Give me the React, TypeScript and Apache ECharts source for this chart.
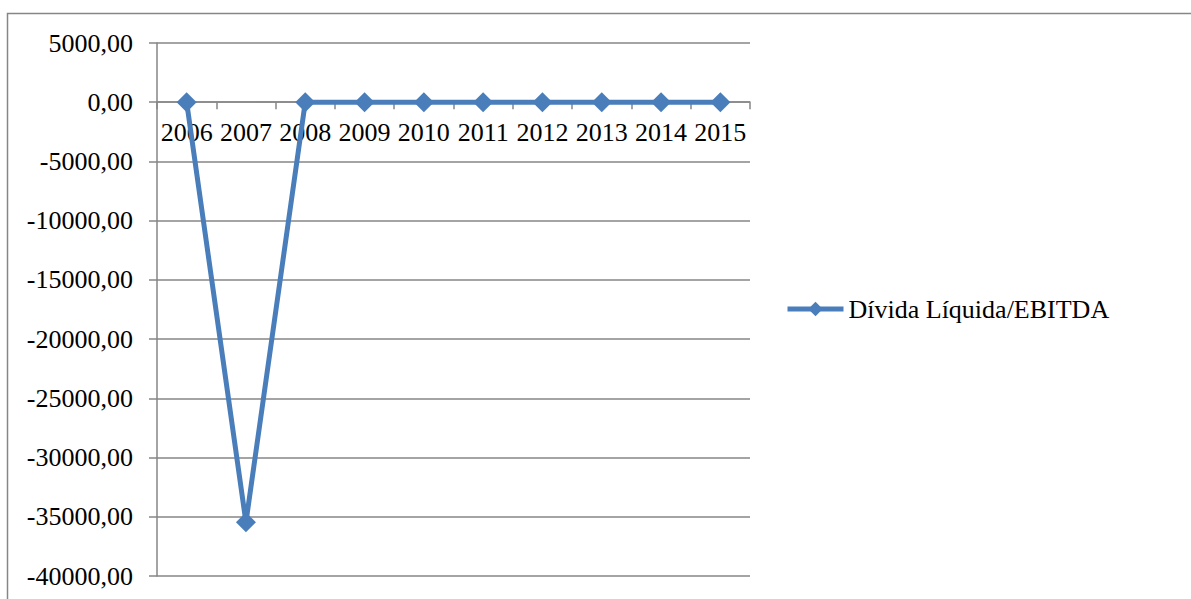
import React, { useEffect, useRef } from "react";
import * as echarts from "echarts";

const categories = ["2006", "2007", "2008", "2009", "2010", "2011", "2012", "2013", "2014", "2015"];
const seriesName = "Dívida Líquida/EBITDA";
const values = [0.5, -35470, 1.2, 1.8, 0.9, 0.7, 1.1, 1.6, 2.0, 2.5];
const yMin = -40000;
const yMax = 5000;
const yInterval = 5000;

const FONT = "'Liberation Serif', 'Times New Roman', serif";
const GRAY = "#868686";
const BLUE = "#4A7EBB";

export default function App() {
  const ref = useRef<HTMLDivElement>(null);
  useEffect(() => {
    document.body.style.margin = "0";
    const chart = echarts.init(ref.current!, undefined, { renderer: "svg" });
    const gridTop = 43;
    const gridHeight = 533;
    const zeroY = gridTop + gridHeight * (yMax / (yMax - yMin));
    chart.setOption({
      animation: false,
      backgroundColor: "#ffffff",
      graphic: [
        {
          type: "rect",
          shape: { x: 7.5, y: 13.5, width: 1300, height: 700 },
          style: { fill: "none", stroke: GRAY, lineWidth: 1.5 },
          silent: true,
        },
      ],
      grid: {
        left: 157,
        top: gridTop,
        width: 593,
        height: gridHeight,
        containLabel: false,
        outerBoundsMode: "none",
      },
      legend: {
        show: true,
        left: 780,
        top: 291,
        orient: "vertical",
        itemWidth: 56,
        itemHeight: 18,
        itemGap: 5,
        lineStyle: { width: 5 },
        textStyle: { fontFamily: FONT, fontSize: 26, color: "#000" },
        data: [seriesName],
      },
      xAxis: {
        type: "category",
        data: categories,
        boundaryGap: true,
        position: "bottom",
        offset: -(gridTop + gridHeight - zeroY),
        axisLine: { onZero: false, lineStyle: { color: GRAY, width: 1.5 } },
        axisTick: { show: true, length: 7, lineStyle: { color: GRAY, width: 1.5 } },
        axisLabel: { fontFamily: FONT, fontSize: 26, color: "#000", margin: 17, interval: 0 },
        splitLine: { show: false },
      },
      yAxis: {
        type: "value",
        min: yMin,
        max: yMax,
        interval: yInterval,
        axisLine: { show: true, lineStyle: { color: GRAY, width: 1.5 } },
        axisTick: { show: true, length: 8, lineStyle: { color: GRAY, width: 1.5 } },
        axisLabel: {
          fontFamily: FONT,
          fontSize: 26,
          color: "#000",
          margin: 24,
          formatter: (v: number) => v.toFixed(2).replace(".", ","),
        },
        splitLine: { show: true, lineStyle: { color: GRAY, width: 1.5 } },
      },
      series: [
        {
          name: seriesName,
          type: "line",
          data: values,
          symbol: "diamond",
          symbolSize: 20,
          lineStyle: { color: BLUE, width: 5 },
          itemStyle: { color: BLUE },
          z: 5,
        },
      ],
    });
    return () => chart.dispose();
  }, []);
  return <div ref={ref} style={{ width: 1191, height: 599 }} />;
}
